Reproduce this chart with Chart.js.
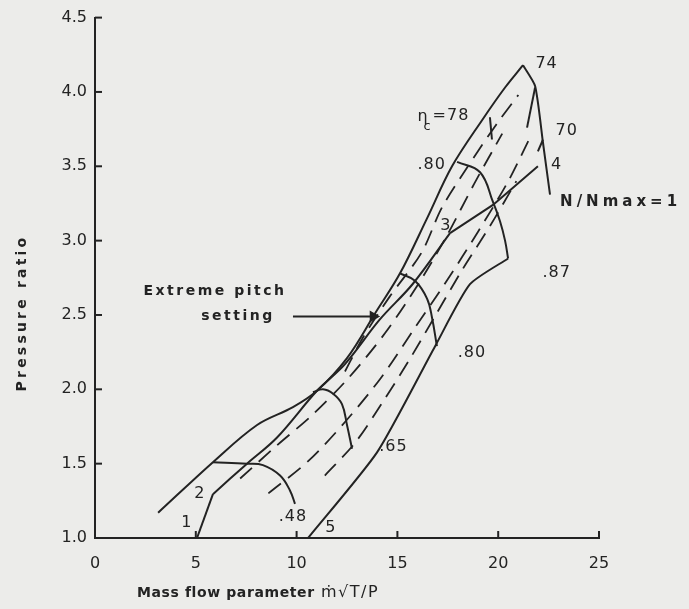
<!DOCTYPE html>
<html>
<head>
<meta charset="utf-8">
<script src="https://cdn.jsdelivr.net/npm/chart.js@4.4.1/dist/chart.umd.min.js"></script>
<style>
  html, body { margin: 0; padding: 0; background: #ececea; }
  canvas { display: block; }
</style>
</head>
<body>
<canvas id="map" width="689" height="609"></canvas>
<script>
// axis ticks
const xTicks = [0, 5, 10, 15, 20, 25];
const yTicks = [1.0, 1.5, 2.0, 2.5, 3.0, 3.5, 4.0, 4.5];

// outer boundary (extreme pitch surge line) up to the peak
const surgeLine = [[3.13,1.17],[5.85,1.51],[8.04,1.76],[9.82,1.88],[11.01,1.99],[12.5,2.21],[13.89,2.51],[15.13,2.78],[16.47,3.15],[17.71,3.5],[19.25,3.82],[20.34,4.03],[21.23,4.18]];
// N/Nmax = 1 line, down from the peak
const fullSpeed = [[21.23,4.18],[21.83,4.04],[22.22,3.66],[22.57,3.31]];
// operating line 1 - 2 - 3 - 4
const line12 = [[5.06,1.0],[5.85,1.295]];
const line23 = [[5.85,1.295],[7.54,1.50],[9.03,1.676],[11.01,1.99],[12.4,2.17],[14.13,2.47],[15.77,2.71],[17.61,3.05]];
const line34 = [[17.61,3.05],[19.74,3.24],[21.97,3.50]];
// lower boundary from 5
const chokeLine = [[10.57,1.0],[13.99,1.576],[16.87,2.29],[18.6,2.707],[20.49,2.88]];

// efficiency contours
const eff48 = [[5.85,1.51],[7.54,1.50],[8.33,1.49],[9.18,1.42],[9.67,1.32],[9.92,1.23]];
const eff65 = [[10.81,1.98],[11.31,2.0],[11.81,1.97],[12.25,1.90],[12.5,1.76],[12.75,1.60]];
const eff80a = [[15.13,2.78],[15.87,2.73],[16.47,2.61],[16.72,2.48],[16.96,2.29]];
const eff80b = [[17.96,3.53],[19.1,3.46],[19.74,3.26],[20.09,3.13],[20.34,3.0],[20.49,2.88]];
const eff78 = [[19.59,3.83],[19.69,3.68]];
const eff74 = [[21.83,4.03],[21.43,3.76]];
const eff70 = [[22.22,3.68],[21.97,3.60]];

// pitch hatching (broken lines)
const hatchA = [[7.2,1.40],[9.0,1.62],[10.8,1.83],[12.6,2.08],[14.4,2.38],[16.0,2.70],[17.4,3.02],[18.8,3.38],[20.2,3.72]];
const hatchB = [[8.6,1.30],[10.6,1.52],[12.4,1.78],[14.2,2.08],[15.8,2.40],[17.4,2.72],[19.0,3.06],[20.5,3.40],[21.6,3.70]];
const hatchC = [[11.4,1.42],[12.9,1.64],[14.3,1.92],[15.6,2.2],[16.9,2.5],[18.2,2.8],[19.6,3.1],[20.9,3.4]];
const hatchD = [[12.4,2.12],[13.3,2.35],[14.6,2.62],[16.2,2.92],[17.2,3.22],[18.5,3.50],[19.9,3.78],[21.0,3.98]];

// pointer for "Extreme pitch setting"
const pitchArrow = [[9.82,2.49],[13.8,2.49]];

// curve marks (number labels)
const markText = ['1', '2', '3', '4', '5', '.48', '.65', '.80', '.80', '74', '70', '.87'];
const markX = [4.56, 5.2, 17.4, 22.9, 11.7, 9.82, 14.8, 18.7, 16.7, 22.4, 23.4, 22.9];
const markY = [1.10, 1.295, 3.10, 3.51, 1.07, 1.14, 1.61, 2.245, 3.51, 4.19, 3.74, 2.78];

const INK = '#232323';

const toPts = arr => arr.map(([x, y]) => ({ x, y }));
function curve(pts, extra) {
    return Object.assign({
        data: toPts(pts),
        showLine: true,
        pointRadius: 0,
        borderColor: INK,
        backgroundColor: INK,
        borderWidth: 2,
        tension: 0.35,
        fill: false
    }, extra || {});
}
const dashed = { borderDash: [16, 9], borderWidth: 1.8, tension: 0.3 };

function drawText(ctx, txt, px, py, spacing) {
    ctx.letterSpacing = spacing + 'px';
    ctx.fillText(txt, px, py);
}

const annotate = {
    id: 'annotate',
    afterDatasetsDraw(chart) {
        const { ctx, chartArea, scales: { x, y } } = chart;
        ctx.save();
        ctx.strokeStyle = INK;
        ctx.fillStyle = INK;
        ctx.lineWidth = 2;

        // inward tick marks
        xTicks.forEach(v => {
            if (v === 0) return;
            const px = x.getPixelForValue(v);
            ctx.beginPath();
            ctx.moveTo(px, chartArea.bottom);
            ctx.lineTo(px, chartArea.bottom - 7);
            ctx.stroke();
        });
        yTicks.forEach(v => {
            if (v === 1) return;
            const py = y.getPixelForValue(v);
            ctx.beginPath();
            ctx.moveTo(chartArea.left, py);
            ctx.lineTo(chartArea.left + 7, py);
            ctx.stroke();
        });

        // number marks
        ctx.textBaseline = 'middle';
        ctx.textAlign = 'center';
        ctx.font = '16px "DejaVu Sans"';
        markText.forEach((t, i) => {
            drawText(ctx, t, x.getPixelForValue(markX[i]), y.getPixelForValue(markY[i]), 1);
        });

        // eta_c = 78
        ctx.textAlign = 'left';
        let px = x.getPixelForValue(16.0), py = y.getPixelForValue(3.83);
        drawText(ctx, 'η', px, py, 0);
        ctx.font = '13px "DejaVu Sans"';
        drawText(ctx, 'c', px + 6, py + 9, 0);
        ctx.font = '16px "DejaVu Sans"';
        drawText(ctx, '=78', px + 15, py - 1, 1);

        // N/Nmax = 1
        ctx.font = 'bold 15px "DejaVu Sans"';
        drawText(ctx, 'N/Nmax=1', x.getPixelForValue(23.07), y.getPixelForValue(3.26), 4);

        // Extreme pitch setting
        ctx.font = 'bold 14px "DejaVu Sans"';
        ctx.textAlign = 'center';
        drawText(ctx, 'Extreme pitch', x.getPixelForValue(5.95), y.getPixelForValue(2.66), 2.5);
        drawText(ctx, 'setting', x.getPixelForValue(7.09), y.getPixelForValue(2.49), 2.5);

        // axis titles
        ctx.textAlign = 'left';
        ctx.font = 'bold 14px "DejaVu Sans"';
        drawText(ctx, 'Mass flow parameter', chartArea.left + 42, 593, 0.6);
        ctx.font = '16px "DejaVu Sans"';
        drawText(ctx, 'ṁ√T/P', chartArea.left + 226, 593, 1.5);

        ctx.translate(22, 313);
        ctx.rotate(-Math.PI / 2);
        ctx.textAlign = 'center';
        ctx.font = 'bold 14px "DejaVu Sans"';
        drawText(ctx, 'Pressure ratio', 0, 0, 3.2);
        ctx.restore();
    }
};

new Chart(document.getElementById('map'), {
    type: 'scatter',
    data: {
        datasets: [
            curve(surgeLine),
            curve(fullSpeed, { tension: 0.2 }),
            curve(line12, { tension: 0 }),
            curve(line23),
            curve(line34, { tension: 0 }),
            curve(chokeLine, { tension: 0.2 }),
            curve(eff48, { tension: 0.4 }),
            curve(eff65, { tension: 0.4 }),
            curve(eff80a, { tension: 0.4 }),
            curve(eff80b, { tension: 0.4 }),
            curve(eff78, { tension: 0 }),
            curve(eff74, { tension: 0 }),
            curve(eff70, { tension: 0 }),
            curve(hatchA, dashed),
            curve(hatchB, dashed),
            curve(hatchC, dashed),
            curve(hatchD, dashed),
            curve(pitchArrow, { tension: 0, pointRadius: [0, 5], pointStyle: 'triangle', rotation: 90 })
        ]
    },
    options: {
        responsive: false,
        animation: false,
        layout: { padding: { top: 15, right: 90, left: 0, bottom: 0 } },
        plugins: { legend: { display: false }, tooltip: { enabled: false } },
        scales: {
            x: {
                type: 'linear',
                min: 0, max: 25,
                afterBuildTicks: s => { s.ticks = xTicks.map(v => ({ value: v })); },
                afterFit: s => { s.height = 71; },
                grid: { drawOnChartArea: false, drawTicks: false },
                border: { color: INK, width: 2 },
                ticks: { color: INK, padding: 16, font: { family: 'DejaVu Sans', size: 16 } }
            },
            y: {
                type: 'linear',
                min: 1, max: 4.5,
                afterBuildTicks: s => { s.ticks = yTicks.map(v => ({ value: v })); },
                afterFit: s => { s.width = 95; },
                grid: { drawOnChartArea: false, drawTicks: false },
                border: { color: INK, width: 2 },
                ticks: {
                    color: INK, padding: 8,
                    font: { family: 'DejaVu Sans', size: 16 },
                    callback: v => v.toFixed(1)
                }
            }
        }
    },
    plugins: [annotate]
});
</script>
</body>
</html>
